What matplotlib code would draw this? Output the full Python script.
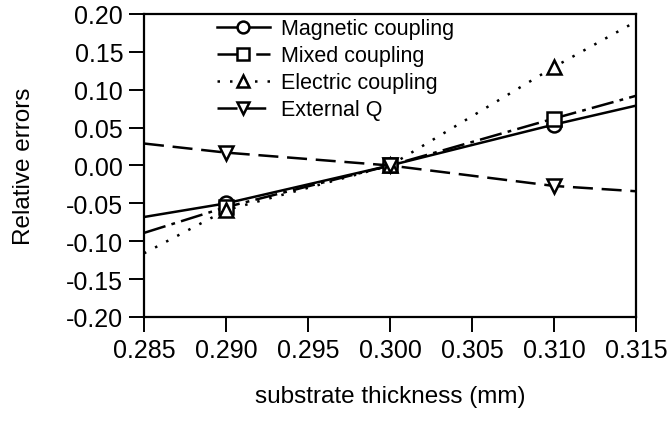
import matplotlib
matplotlib.use('Agg')
import matplotlib.pyplot as plt

plt.rcParams['font.family'] = ['Liberation Sans', 'DejaVu Sans']

# data
x = [0.285, 0.290, 0.300, 0.310, 0.315]
magnetic = [-0.068, -0.050, 0.000, 0.054, 0.079]
mixed = [-0.089, -0.055, 0.000, 0.062, 0.092]
electric = [-0.116, -0.059, 0.000, 0.130, 0.190]
external_q = [0.029, 0.017, 0.000, -0.027, -0.034]

xticks = [0.285, 0.290, 0.295, 0.300, 0.305, 0.310, 0.315]
yticks = [-0.20, -0.15, -0.10, -0.05, 0.00, 0.05, 0.10, 0.15, 0.20]

fig = plt.figure(figsize=(6.72, 4.27), dpi=100)
ax = fig.add_axes([0.2143, 0.2553, 0.7321, 0.7096])

mk = dict(markevery=[1, 2, 3], markersize=10, markerfacecolor='white',
          markeredgecolor='black', markeredgewidth=1.8, color='black', lw=1.8)

ax.plot(x, magnetic, marker='o', linestyle='-', label='Magnetic coupling', **mk)
ax.plot(x, mixed, marker='s', linestyle=(0, (9, 2.5, 1.5, 2.5)), label='Mixed coupling', **mk)
ax.plot(x, electric, marker='^', linestyle=(0, (1, 4)), label='Electric coupling', **mk)
ax.plot(x, external_q, marker='v', linestyle=(0, (8, 3.5)), label='External Q', **mk)

ax.set_xlim(0.285, 0.315)
ax.set_ylim(-0.20, 0.20)
ax.set_xticks(xticks)
ax.set_xticklabels([f'{v:.3f}' for v in xticks])
ax.set_yticks(yticks)
ax.set_yticklabels([f'{v:.2f}' for v in yticks])
ax.tick_params(direction='out', length=11, width=1.4, labelsize=18, pad=4,
               top=False, right=False)

for sp in ax.spines.values():
    sp.set_linewidth(1.6)

ax.set_xlabel('substrate thickness (mm)', fontsize=17.5, labelpad=17)
ax.set_ylabel('Relative errors', fontsize=17.5, labelpad=22)

ax.legend(loc='upper left', bbox_to_anchor=(0.13, 1.015), frameon=False,
          fontsize=15.5, handlelength=2.5, handletextpad=0.5, labelspacing=0.28,
          markerscale=0.85, borderaxespad=0)

fig.savefig('out.png', dpi=100)
